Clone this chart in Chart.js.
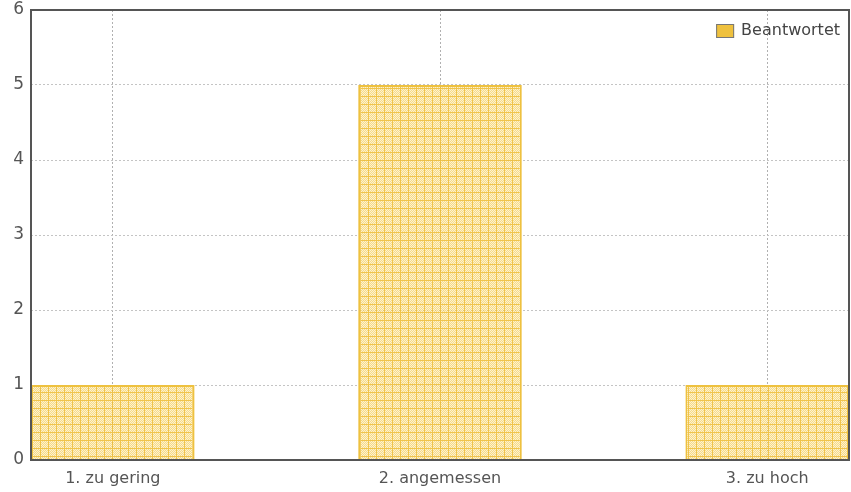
<!DOCTYPE html>
<html>
<head>
<meta charset="utf-8">
<script src="https://cdn.jsdelivr.net/npm/chart.js@4"></script>
<style>
  html, body { margin: 0; padding: 0; background: #fff; }
  #wrap { width: 851px; height: 492px; }
</style>
</head>
<body>
<div id="wrap"><canvas id="chart" width="851" height="492"></canvas></div>
<script>
const categories = ['1. zu gering', '2. angemessen', '3. zu hoch'];
const answered = [1, 5, 1];
const yTicks = [0, 1, 2, 3, 4, 5, 6];
const seriesName = 'Beantwortet';

// hatch pattern like the original (grid of yellow lines with a light checker)
function makePattern() {
  const c = document.createElement('canvas');
  c.width = 8; c.height = 8;
  const g = c.getContext('2d');
  g.fillStyle = 'rgba(242,200,70,0.65)';
  g.fillRect(1, 1, 7, 7);
  g.fillStyle = 'rgba(255,255,255,0.6)';
  for (let y = 1; y < 8; y++) {
    for (let x = 1; x < 8; x++) {
      if ((x + y) % 2 === 0) g.fillRect(x, y, 1, 1);
    }
  }
  g.fillStyle = 'rgba(238,190,55,0.9)';
  g.fillRect(0, 0, 8, 1);
  g.fillRect(0, 1, 1, 7);
  return g.createPattern(c, 'repeat');
}

// frame round the plot area and the legend in its top right corner
const framePlugin = {
  id: 'frame',
  afterDraw(chart) {
    const a = chart.chartArea;
    const ctx = chart.ctx;
    ctx.save();
    ctx.strokeStyle = '#555';
    ctx.lineWidth = 2;
    ctx.strokeRect(a.left, a.top, a.right - a.left, a.bottom - a.top);

    ctx.font = '16px "DejaVu Sans"';
    const tw = ctx.measureText(seriesName).width;
    const tx = a.right - 9 - tw;
    const ty = a.top + 21;
    ctx.fillStyle = '#efc13e';
    ctx.fillRect(tx - 25, ty - 7, 18, 14);
    ctx.strokeStyle = '#777';
    ctx.lineWidth = 1;
    ctx.strokeRect(tx - 24.5, ty - 6.5, 17, 13);
    ctx.fillStyle = '#444';
    ctx.textBaseline = 'middle';
    ctx.fillText(seriesName, tx, ty);
    ctx.restore();
  }
};

const points = answered.map((v, i) => ({ x: i, y: v }));

new Chart(document.getElementById('chart'), {
  type: 'bar',
  data: {
    datasets: [{
      label: seriesName,
      data: points,
      backgroundColor: makePattern(),
      borderColor: '#eec13f',
      borderWidth: 2,
      barPercentage: 0.5,
      categoryPercentage: 1.0
    }]
  },
  options: {
    responsive: false,
    animation: false,
    layout: { padding: { top: 0, right: 2, left: 0, bottom: 0 } },
    plugins: {
      legend: { display: false },
      tooltip: { enabled: false }
    },
    scales: {
      x: {
        type: 'linear',
        min: -0.25,
        max: 2.25,
        offset: false,
        afterBuildTicks(axis) {
          axis.ticks = categories.map((c, i) => ({ value: i }));
        },
        afterFit(axis) {
          axis.height = 32;
          axis.paddingLeft = 0;
          axis.paddingRight = 0;
        },
        ticks: {
          callback: (v) => categories[v],
          font: { family: 'DejaVu Sans', size: 16 },
          color: '#555',
          padding: 9
        },
        grid: {
          offset: false,
          color: '#b0b0b0',
          drawTicks: false
        },
        border: { display: false, dash: [2, 2] }
      },
      y: {
        min: 0,
        max: 6,
        afterBuildTicks(axis) {
          axis.ticks = yTicks.map(v => ({ value: v }));
        },
        afterFit(axis) {
          axis.width = 31;
          axis.paddingTop = 10;
          axis.paddingBottom = 0;
        },
        ticks: {
          font: { family: 'DejaVu Sans', size: 17 },
          color: '#555',
          padding: 7
        },
        grid: {
          color: '#c4c4c4',
          drawTicks: false
        },
        border: { display: false, dash: [2, 2] }
      }
    }
  },
  plugins: [framePlugin]
});
</script>
</body>
</html>
